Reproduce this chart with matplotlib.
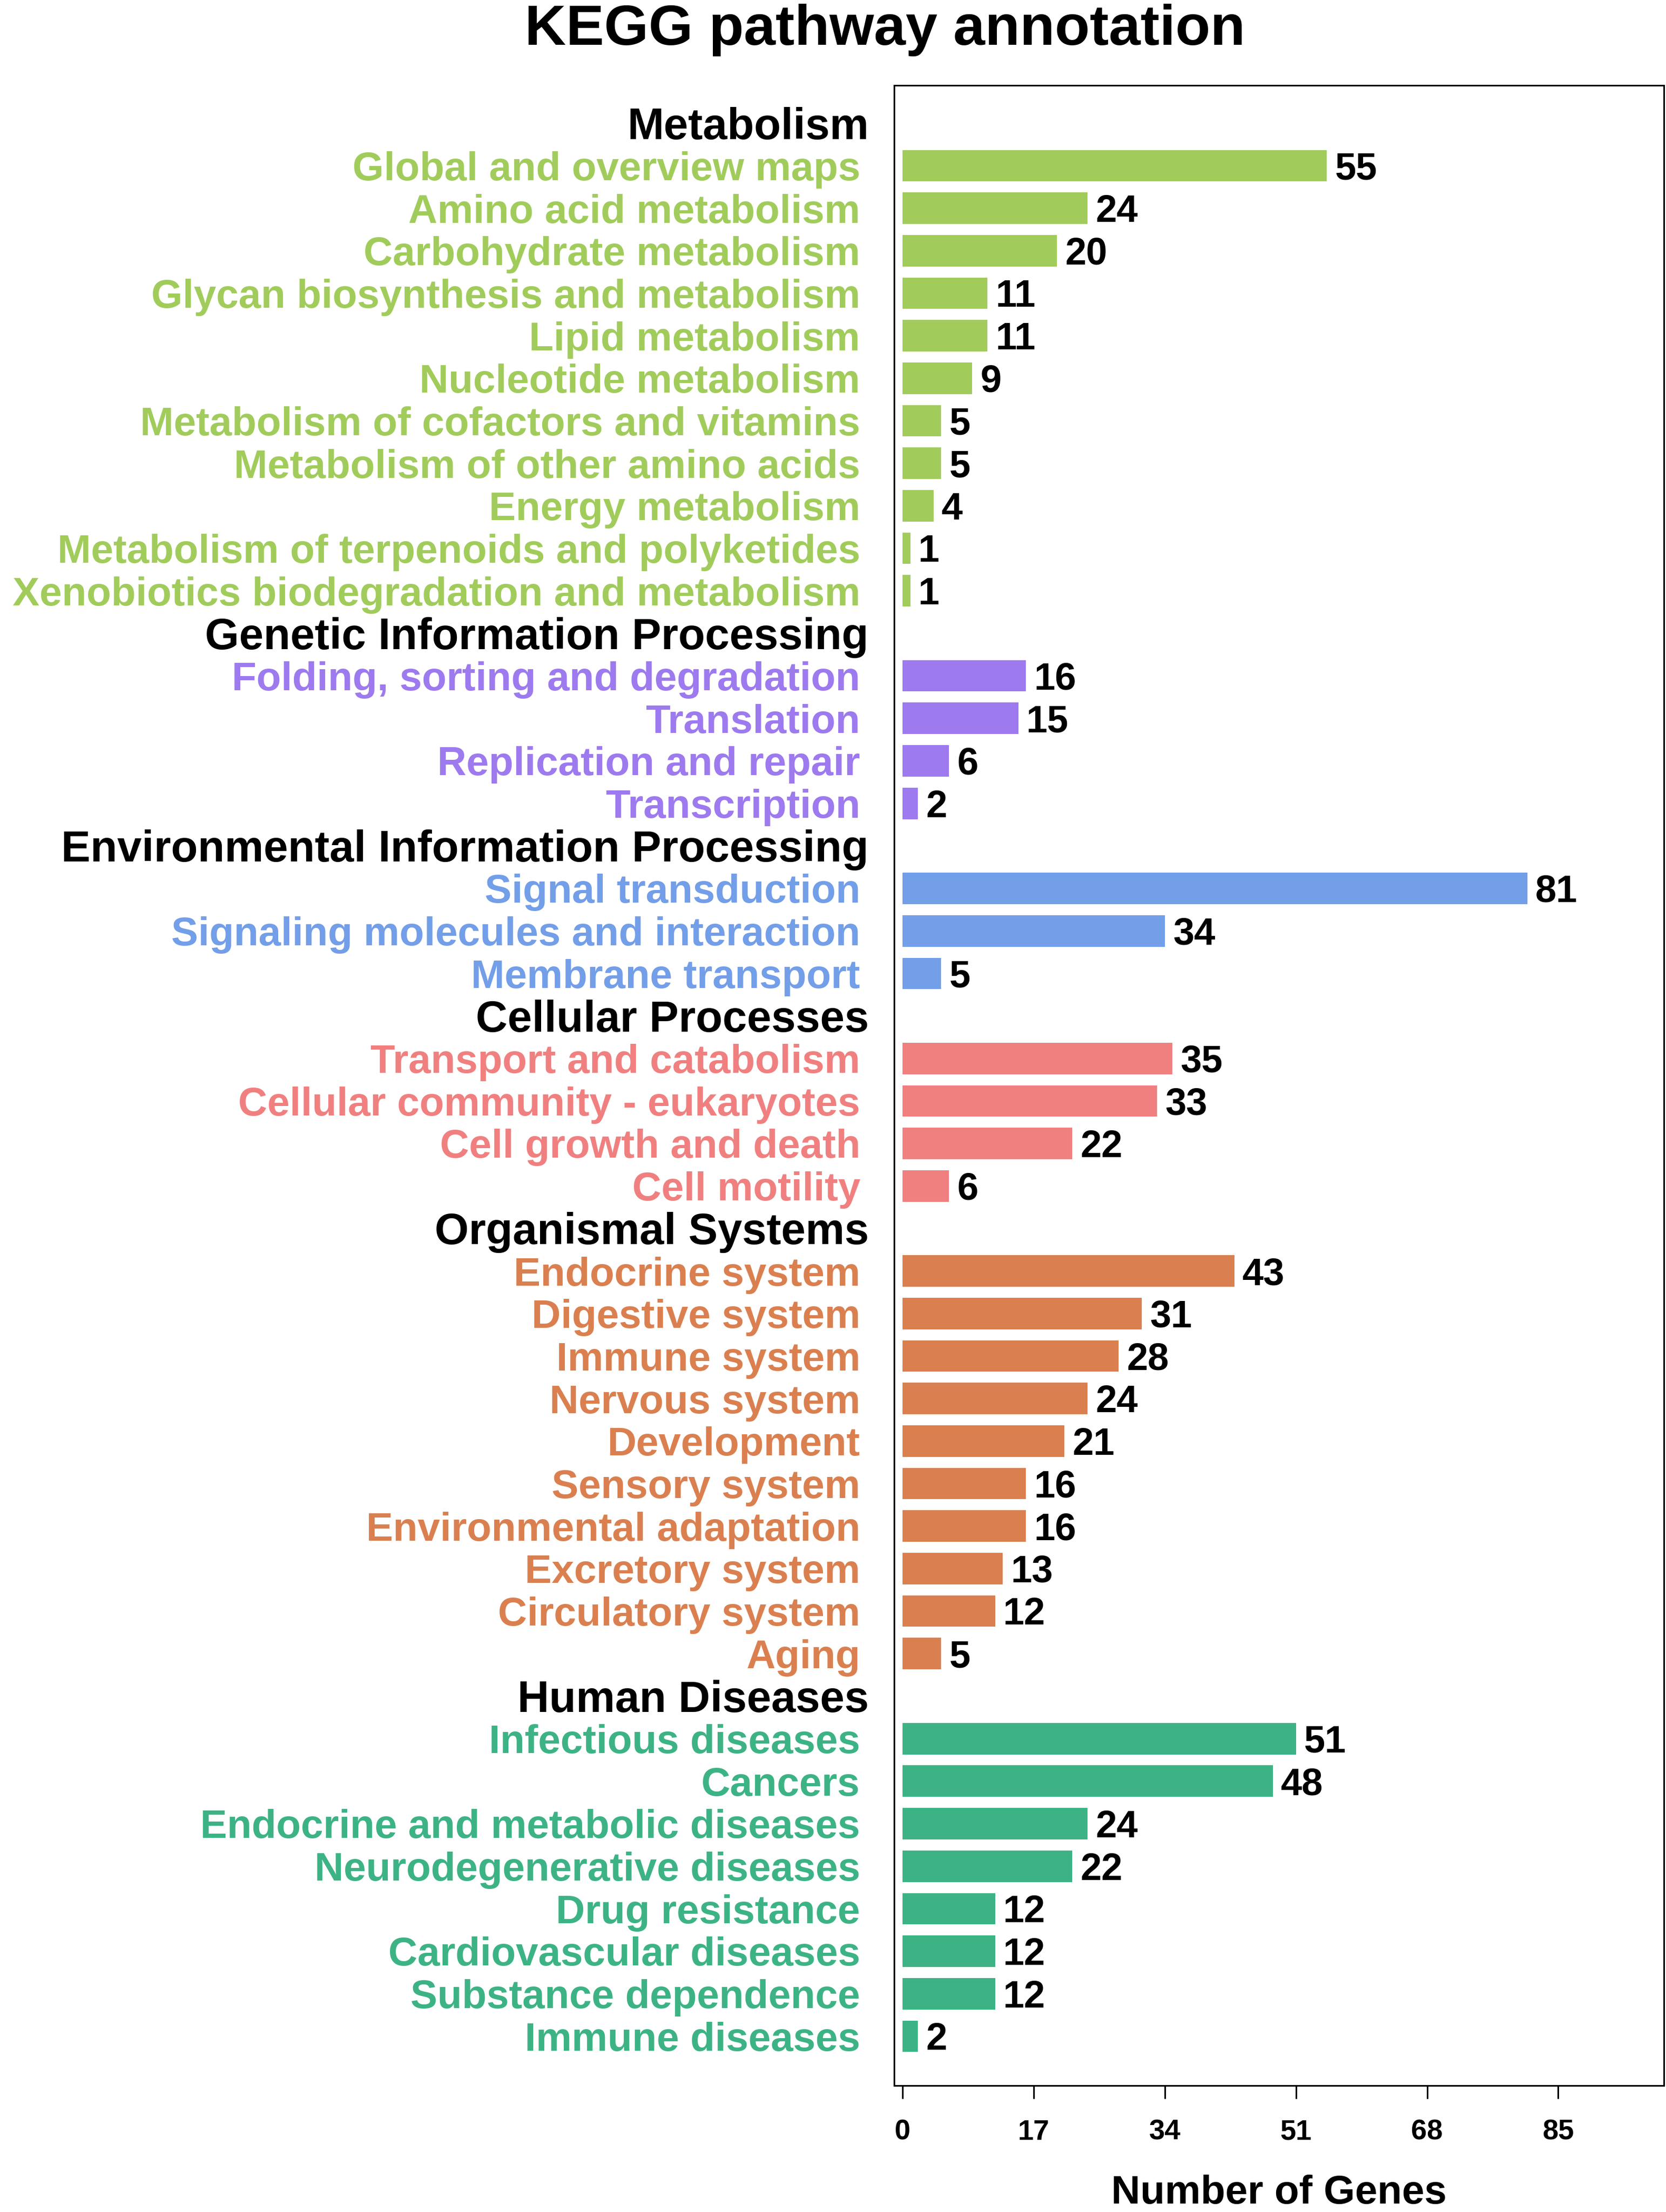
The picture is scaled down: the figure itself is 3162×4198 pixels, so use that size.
import numpy as np
import matplotlib
matplotlib.use("Agg")
import matplotlib.pyplot as plt

plt.rcParams['font.family'] = ['Liberation Sans', 'DejaVu Sans']
plt.rcParams['font.weight'] = 'bold'

# KEGG level-1 groups and their colours
groups = ["Metabolism", "Genetic Information Processing",
          "Environmental Information Processing", "Cellular Processes",
          "Organismal Systems", "Human Diseases"]
group_colors = ["#a1cc5c", "#9d7aee", "#739ee8", "#f08080", "#da8050", "#3db385"]

met_names = ["Global and overview maps", "Amino acid metabolism", "Carbohydrate metabolism",
             "Glycan biosynthesis and metabolism", "Lipid metabolism", "Nucleotide metabolism",
             "Metabolism of cofactors and vitamins", "Metabolism of other amino acids",
             "Energy metabolism", "Metabolism of terpenoids and polyketides",
             "Xenobiotics biodegradation and metabolism"]
met_counts = [55, 24, 20, 11, 11, 9, 5, 5, 4, 1, 1]

gip_names = ["Folding, sorting and degradation", "Translation", "Replication and repair",
             "Transcription"]
gip_counts = [16, 15, 6, 2]

eip_names = ["Signal transduction", "Signaling molecules and interaction", "Membrane transport"]
eip_counts = [81, 34, 5]

cp_names = ["Transport and catabolism", "Cellular community - eukaryotes",
            "Cell growth and death", "Cell motility"]
cp_counts = [35, 33, 22, 6]

os_names = ["Endocrine system", "Digestive system", "Immune system", "Nervous system",
            "Development", "Sensory system", "Environmental adaptation", "Excretory system",
            "Circulatory system", "Aging"]
os_counts = [43, 31, 28, 24, 21, 16, 16, 13, 12, 5]

hd_names = ["Infectious diseases", "Cancers", "Endocrine and metabolic diseases",
            "Neurodegenerative diseases", "Drug resistance", "Cardiovascular diseases",
            "Substance dependence", "Immune diseases"]
hd_counts = [51, 48, 24, 22, 12, 12, 12, 2]

x_ticks = [0, 17, 34, 51, 68, 85]

all_names = [met_names, gip_names, eip_names, cp_names, os_names, hd_names]
all_counts = [met_counts, gip_counts, eip_counts, cp_counts, os_counts, hd_counts]

W, H = 3162, 4198
fig = plt.figure(figsize=(W / 100, H / 100), dpi=100)
ax = fig.add_axes([1697 / W, 1 - 3958 / H, (3158 - 1697) / W, (3958 - 162) / H])

label_fs = 55
header_fs = 60
value_fs = 52

row = 0
for g, col, names, counts in zip(groups, group_colors, all_names, all_counts):
    ax.annotate(g, xy=(-0.033, row), xycoords=ax.get_yaxis_transform(),
                xytext=(0, -0.358 * header_fs), textcoords="offset points",
                ha="right", va="baseline", fontsize=header_fs, color="black",
                annotation_clip=False)
    row += 1
    ys = np.arange(row, row + len(names))
    ax.barh(ys, counts, height=0.74, color=col, left=0)
    for y, n, v in zip(ys, names, counts):
        ax.annotate(n, xy=(-0.044, y), xycoords=ax.get_yaxis_transform(),
                    xytext=(0, -0.358 * label_fs), textcoords="offset points",
                    ha="right", va="baseline", fontsize=label_fs, color=col,
                    annotation_clip=False)
        ax.annotate(str(v), xy=(v, y), xytext=(11, -0.358 * value_fs),
                    textcoords="offset points", ha="left", va="baseline",
                    fontsize=value_fs, color="black")
    row += len(names)

ax.set_ylim(row - 1 + 1.16, -0.89)
ax.set_xlim(-1.09, 98.7)
ax.set_yticks([])
ax.set_xticks(x_ticks)
ax.set_xticklabels([str(t) for t in x_ticks])
ax.tick_params(axis="x", direction="out", length=18, width=2.2, pad=28, labelsize=39)
for s in ax.spines.values():
    s.set_linewidth(2.2)

ax.set_xlabel("Number of Genes", fontsize=55, fontweight="bold", va="center")
ax.xaxis.set_label_coords(0.5, -0.054)

fig.text(1680 / W, 1 - 85 / H, "KEGG pathway annotation", ha="center", va="baseline",
         fontsize=78, fontweight="bold")

fig.savefig("out.png", dpi=100)
